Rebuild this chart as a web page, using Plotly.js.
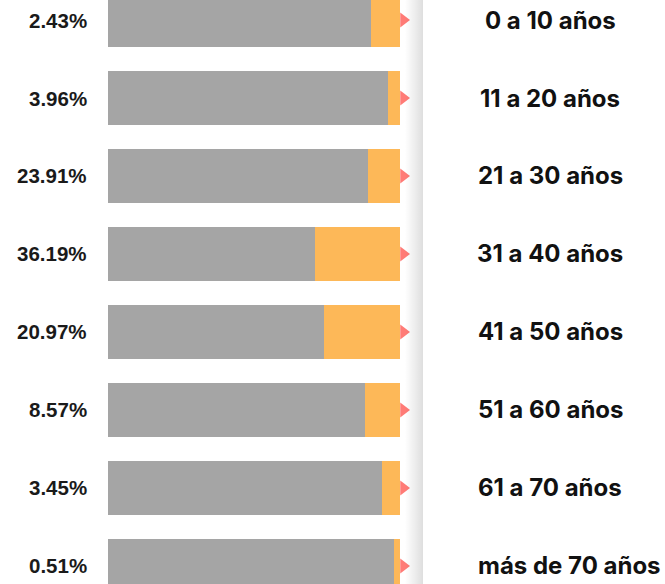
<!DOCTYPE html>
<html>
<head>
<meta charset="utf-8">
<script src="https://cdn.plot.ly/plotly-3.0.1.min.js"></script>
<style>
  html, body { margin: 0; padding: 0; background: #fff; }
  #wrap { position: relative; width: 665px; height: 584px; overflow: hidden; }
  #chart { width: 665px; height: 584px; }
  #shadow { position: absolute; left: 405px; top: 0; width: 18px; height: 584px;
    background: linear-gradient(to right, rgba(0,0,0,0), rgba(0,0,0,0.13));
    pointer-events: none; }
</style>
</head>
<body>
<div id="wrap">
  <div id="chart"></div>
  <div id="shadow"></div>
</div>
<script>
// Data
const categories = ["0 a 10 años", "11 a 20 años", "21 a 30 años", "31 a 40 años",
                    "41 a 50 años", "51 a 60 años", "61 a 70 años", "más de 70 años"];
const shareLabels = ["2.43%", "3.96%", "23.91%", "36.19%", "20.97%", "8.57%", "3.45%", "0.51%"];
const grayValues = [90.1, 95.9, 88.9, 70.9, 73.9, 88.0, 93.8, 98.0];
const orangeValues = grayValues.map(v => +(100 - v).toFixed(1));

const totals = grayValues.map((v, i) => v + orangeValues[i]);
const markerOffset = 1.2; // pushes the triangle just past the bar end

const traces = [
  {
    type: 'bar', orientation: 'h', y: categories, x: grayValues,
    marker: { color: '#A5A5A5' }, hoverinfo: 'skip', showlegend: false
  },
  {
    type: 'bar', orientation: 'h', y: categories, x: orangeValues,
    marker: { color: '#FDB858' }, hoverinfo: 'skip', showlegend: false
  },
  {
    type: 'scatter', mode: 'markers', y: categories,
    x: totals.map(t => t + markerOffset),
    marker: { symbol: 'triangle-right', size: 13, color: '#FF7B76' },
    hoverinfo: 'skip', showlegend: false
  }
];

const annotations = [];
categories.forEach((c, i) => {
  annotations.push({
    xref: 'paper', yref: 'y', x: 89 / 665, y: c, xanchor: 'right', yanchor: 'middle',
    text: shareLabels[i], showarrow: false,
    font: { family: 'Liberation Sans, Arial, sans-serif', size: 20.5, color: '#1a1a1a', weight: 700 }
  });
  // long labels do not fit centred in the column, so they start at its left edge
  const long = c.length > 13;
  annotations.push({
    xref: 'paper', yref: 'y', x: (long ? 476 : 550) / 665, y: c,
    xanchor: long ? 'left' : 'center', yanchor: 'middle',
    text: c, showarrow: false,
    font: { family: 'Inter, Roboto, sans-serif', size: 24, color: '#111', weight: 700 }
  });
});

const layout = {
  width: 665, height: 584,
  margin: { l: 0, r: 0, t: 0, b: 0 },
  paper_bgcolor: '#fff', plot_bgcolor: '#fff',
  barmode: 'stack', bargap: 0.32,
  showlegend: false,
  xaxis: { domain: [108 / 665, (108 + 292 * 1.05) / 665], range: [0, 105], visible: false, fixedrange: true },
  yaxis: { type: 'category', range: [7.231, -0.2564], visible: false, fixedrange: true },
  annotations: annotations
};

Plotly.newPlot('chart', traces, layout, { displayModeBar: false, staticPlot: true });
</script>
</body>
</html>
